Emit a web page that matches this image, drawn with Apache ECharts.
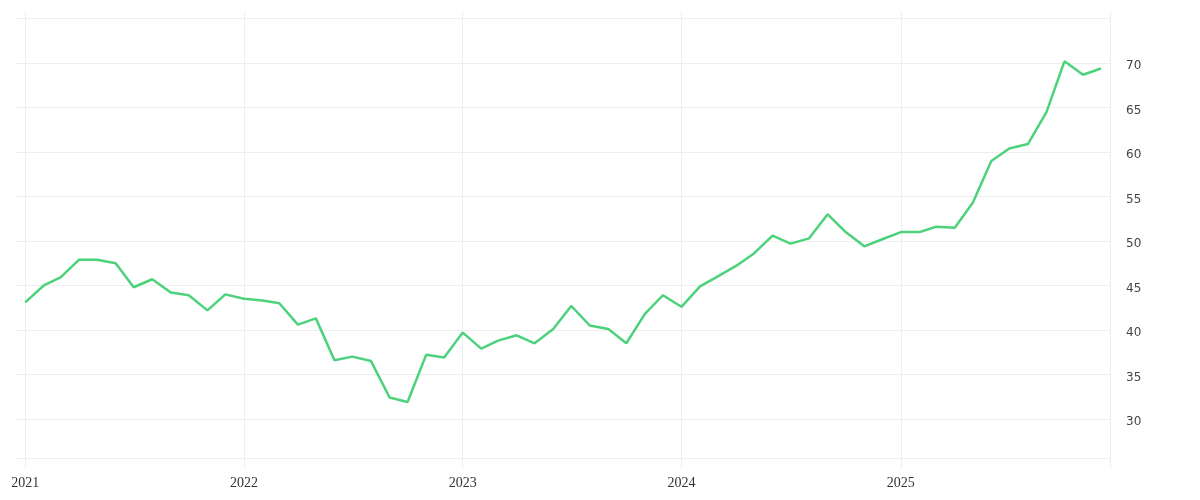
<!DOCTYPE html>
<html>
<head>
<meta charset="utf-8">
<script src="https://cdn.jsdelivr.net/npm/echarts@6/dist/echarts.min.js"></script>
<style>
  html, body { margin: 0; padding: 0; background: #ffffff; }
  #chart { width: 1200px; height: 500px; }
</style>
</head>
<body>
<div id="chart"></div>
<script>
// Monthly values, Jan 2021 .. Dec 2025
const values2021 = [43.1, 45.0, 45.9, 47.9, 47.9, 47.5, 44.8, 45.7, 44.2, 43.9, 42.2, 44.0];
const values2022 = [43.5, 43.3, 43.0, 40.6, 41.3, 36.6, 37.0, 36.5, 32.4, 31.9, 37.2, 36.9];
const values2023 = [39.7, 37.9, 38.8, 39.4, 38.5, 40.1, 42.7, 40.5, 40.1, 38.5, 41.8, 43.9];
const values2024 = [42.6, 44.9, 46.0, 47.2, 48.6, 50.6, 49.7, 50.3, 53.0, 51.0, 49.4, 50.2];
const values2025 = [51.0, 51.0, 51.6, 51.5, 54.3, 59.0, 60.4, 60.9, 64.5, 70.2, 68.7, 69.4];
const years = [2021, 2022, 2023, 2024, 2025];
const yearLabels = ['2021', '2022', '2023', '2024', '2025'];

const values = [].concat(values2021, values2022, values2023, values2024, values2025);
const data = [];
years.forEach(function (y, yi) {
  for (let m = 0; m < 12; m++) {
    data.push([Date.UTC(y, m, 1), values[yi * 12 + m]]);
  }
});

const xMin = Date.UTC(2020, 11, 15);
const xMax = Date.UTC(2025, 11, 16);
const yearTicks = years.map(function (y) { return Date.UTC(y, 0, 1); });
const tickValues = yearTicks.concat([xMax]);

const chart = echarts.init(document.getElementById('chart'), null, { renderer: 'canvas' });
chart.setOption({
  animation: false,
  backgroundColor: '#ffffff',
  grid: { left: 15, right: 90, top: 12, bottom: 42, containLabel: false },
  xAxis: {
    type: 'value',
    min: xMin,
    max: xMax,
    axisLine: { show: true, lineStyle: { color: '#eeeeee', width: 1 } },
    axisTick: { show: true, length: 10, customValues: tickValues, lineStyle: { color: '#eeeeee', width: 1 } },
    splitLine: { show: true, lineStyle: { color: '#eeeeee', width: 1 } },
    axisLabel: {
      customValues: yearTicks,
      margin: 18,
      color: '#333333',
      fontFamily: 'Liberation Serif',
      fontSize: 14,
      formatter: function (v) {
        const i = yearTicks.indexOf(v);
        return i >= 0 ? yearLabels[i] : '';
      }
    }
  },
  yAxis: {
    type: 'value',
    position: 'right',
    min: 25.6,
    max: 75.75,
    splitNumber: 10,
    minInterval: 5,
    maxInterval: 5,
    axisLine: { show: true, lineStyle: { color: '#eeeeee', width: 1 } },
    axisTick: { show: false },
    splitLine: { show: true, showMinLine: false, showMaxLine: false, lineStyle: { color: '#eeeeee', width: 1 } },
    axisLabel: {
      margin: 16,
      verticalAlign: 'top',
      lineHeight: 6,
      color: '#444444',
      fontFamily: 'DejaVu Sans',
      fontSize: 12,
      showMinLabel: false,
      showMaxLabel: false,
      formatter: function (v) {
        if (v >= 30 && v <= 70 && Math.abs(v % 5) < 1e-9) return String(v);
        return '';
      }
    }
  },
  series: [{
    type: 'line',
    data: data,
    showSymbol: false,
    symbol: 'none',
    smooth: false,
    lineStyle: { color: '#4dd27c', width: 2.5 },
    itemStyle: { color: '#4dd27c' }
  }]
});
</script>
</body>
</html>
